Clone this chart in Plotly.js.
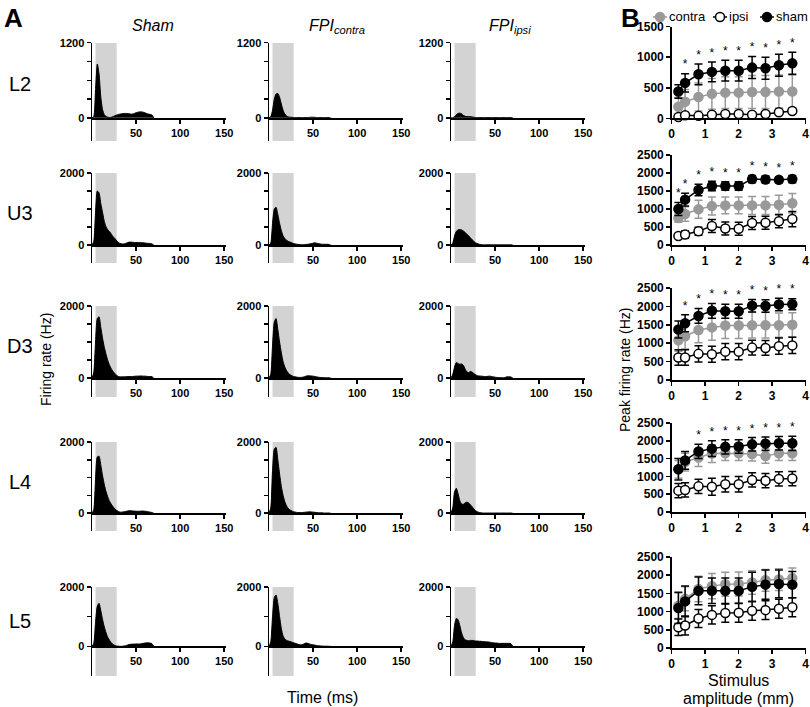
<!DOCTYPE html>
<html>
<head>
<meta charset="utf-8">
<script src="https://cdn.plot.ly/plotly-3.0.1.min.js"></script>
<style>
  body { margin: 0; background: #fff; }
  #chart { width: 810px; height: 707px; }
</style>
</head>
<body>
<div id="chart"></div>
<script>
(function(){

// ---- Panel A data: PSTH, firing rate (Hz) per 2 ms bin ----
const timeMs = [0,2,4,6,8,10,12,14,16,18,20,22,24,26,28,30,32,34,36,38,40,42,44,46,48,50,52,54,56,58,60,62,64,66,68,70];
const stimWindow = [4, 28];

const shamL2   = [0,20,450,860,700,330,130,50,20,10,5,10,20,35,45,55,60,65,70,70,70,65,60,60,70,80,90,95,95,90,80,70,60,55,45,0];
const contraL2 = [0,20,120,300,380,390,330,220,120,60,30,15,10,8,5,5,5,5,5,5,5,5,5,8,10,10,8,5,5,5,5,5,5,5,5,0];
const ipsiL2   = [0,0,20,50,70,75,65,40,25,20,20,20,15,10,5,5,5,5,5,5,5,5,5,5,5,5,5,5,5,5,5,5,5,5,5,0];

const shamU3   = [0,100,900,1500,1450,1150,900,650,500,420,370,300,230,180,120,70,40,30,30,40,60,80,80,75,70,70,70,70,65,60,55,50,45,40,30,0];
const contraU3 = [0,50,600,1000,1050,850,600,400,250,180,130,100,80,60,40,30,20,15,10,10,10,15,20,30,40,50,60,50,40,30,20,20,20,20,15,0];
const ipsiU3   = [0,50,250,380,420,430,420,390,350,300,260,200,150,100,60,40,20,10,5,5,5,5,5,5,5,5,5,5,5,5,5,5,5,5,5,0];

const shamD3   = [0,150,1000,1650,1700,1400,1100,850,650,480,350,250,180,120,70,40,30,30,30,35,40,40,40,40,45,50,50,55,55,50,50,45,40,40,35,0];
const contraD3 = [0,100,900,1550,1650,1350,1000,700,450,300,200,130,90,60,40,30,20,15,15,20,30,50,60,60,55,50,40,30,20,15,10,10,5,5,5,0];
const ipsiD3   = [0,100,300,430,400,380,390,350,250,170,150,180,160,120,90,60,55,50,45,40,40,45,50,40,30,20,15,10,10,5,5,20,30,30,25,0];

const shamL4   = [0,100,950,1580,1600,1350,1050,800,600,450,330,250,180,120,80,50,30,30,40,50,60,70,70,65,60,55,55,55,60,60,55,50,40,30,20,0];
const contraL4 = [0,150,1200,1800,1850,1500,1100,750,500,320,200,130,90,60,40,30,20,20,20,20,25,30,35,40,35,30,25,20,15,10,10,5,5,5,5,0];
const ipsiL4   = [0,150,600,700,550,350,260,250,290,310,290,240,180,120,70,40,20,10,5,5,5,5,5,5,5,5,5,5,5,5,5,5,5,5,5,0];

const shamL5   = [0,100,800,1350,1450,1200,900,650,450,300,200,120,60,30,10,5,0,0,10,20,40,60,70,75,75,80,80,80,90,100,110,120,120,110,90,0];
const contraL5 = [0,150,1000,1650,1730,1450,1000,600,350,250,200,180,160,140,120,100,80,60,50,60,90,110,100,80,60,50,40,30,20,15,10,5,5,5,0,0];
const ipsiL5   = [0,150,700,940,900,700,450,300,220,200,190,200,200,190,180,180,170,170,160,160,150,150,140,130,120,110,110,100,100,100,100,100,100,100,90,0];

const layerNames = ["L2", "U3", "D3", "L4", "L5"];
const psth = [
  [shamL2, contraL2, ipsiL2],
  [shamU3, contraU3, ipsiU3],
  [shamD3, contraD3, ipsiD3],
  [shamL4, contraL4, ipsiL4],
  [shamL5, contraL5, ipsiL5],
];

// ---- Panel B data: peak firing rate (Hz), mean and error ----
const amplitudeMm = [0.2, 0.4, 0.8, 1.2, 1.6, 2.0, 2.4, 2.8, 3.2, 3.6];

const shamPeakL2   = [440, 580, 720, 760, 780, 780, 830, 820, 870, 900];
const shamErrL2    = [110, 150, 170, 160, 170, 170, 180, 180, 180, 180];
const contraPeakL2 = [190, 270, 350, 400, 420, 420, 430, 430, 440, 440];
const contraErrL2  = [150, 200, 230, 250, 260, 260, 270, 270, 270, 270];
const ipsiPeakL2   = [20, 50, 40, 60, 70, 70, 60, 70, 100, 120];
const ipsiErrL2    = [20, 20, 20, 25, 25, 25, 25, 25, 30, 30];

const shamPeakU3   = [1000, 1260, 1530, 1640, 1640, 1640, 1830, 1820, 1810, 1830];
const shamErrU3    = [180, 180, 160, 130, 120, 120, 100, 100, 80, 100];
const contraPeakU3 = [750, 860, 990, 1080, 1100, 1100, 1100, 1100, 1120, 1160];
const contraErrU3  = [120, 200, 250, 250, 230, 230, 250, 250, 260, 270];
const ipsiPeakU3   = [250, 290, 380, 530, 460, 450, 610, 620, 660, 720];
const ipsiErrU3    = [60, 100, 110, 180, 180, 180, 180, 180, 180, 210];

const shamPeakD3   = [1370, 1540, 1740, 1880, 1870, 1870, 2020, 2010, 2050, 2060];
const shamErrD3    = [230, 230, 200, 200, 190, 190, 170, 170, 170, 150];
const contraPeakD3 = [1080, 1190, 1360, 1430, 1480, 1480, 1490, 1490, 1490, 1500];
const contraErrD3  = [300, 350, 350, 350, 350, 350, 350, 350, 330, 330];
const ipsiPeakD3   = [610, 610, 710, 700, 770, 770, 880, 870, 920, 940];
const ipsiErrD3    = [210, 210, 220, 220, 220, 220, 200, 200, 220, 220];

const shamPeakL4   = [1200, 1450, 1700, 1780, 1830, 1840, 1900, 1920, 1930, 1930];
const shamErrL4    = [300, 250, 200, 220, 200, 190, 190, 190, 190, 200];
const contraPeakL4 = [1200, 1400, 1530, 1640, 1650, 1650, 1630, 1570, 1650, 1650];
const contraErrL4  = [250, 250, 250, 250, 200, 200, 200, 200, 200, 200];
const ipsiPeakL4   = [600, 620, 720, 710, 780, 780, 900, 880, 930, 940];
const ipsiErrL4    = [200, 200, 200, 240, 220, 220, 200, 200, 200, 200];

const shamPeakL5   = [1100, 1280, 1570, 1570, 1570, 1570, 1680, 1740, 1760, 1740];
const shamErrL5    = [430, 420, 380, 350, 350, 350, 400, 400, 380, 360];
const contraPeakL5 = [1160, 1350, 1620, 1700, 1750, 1760, 1800, 1860, 1880, 1920];
const contraErrL5  = [350, 330, 350, 350, 330, 330, 320, 300, 300, 280];
const ipsiPeakL5   = [570, 620, 810, 910, 960, 970, 1020, 1040, 1080, 1120];
const ipsiErrL5    = [230, 260, 250, 250, 250, 260, 260, 260, 260, 260];

// significance stars (1 = star over sham point)
const starsL2 = [0,1,1,1,1,1,1,1,1,1];
const starsU3 = [1,1,1,1,1,1,1,1,1,1];
const starsD3 = [0,1,1,1,1,1,1,1,1,1];
const starsL4 = [0,0,1,1,1,1,1,1,1,1];
const starsL5 = [0,0,0,0,0,0,0,0,0,0];

const peaks = [
  {sham: [shamPeakL2, shamErrL2], contra: [contraPeakL2, contraErrL2], ipsi: [ipsiPeakL2, ipsiErrL2], stars: starsL2, ymax: 1500},
  {sham: [shamPeakU3, shamErrU3], contra: [contraPeakU3, contraErrU3], ipsi: [ipsiPeakU3, ipsiErrU3], stars: starsU3, ymax: 2500},
  {sham: [shamPeakD3, shamErrD3], contra: [contraPeakD3, contraErrD3], ipsi: [ipsiPeakD3, ipsiErrD3], stars: starsD3, ymax: 2500},
  {sham: [shamPeakL4, shamErrL4], contra: [contraPeakL4, contraErrL4], ipsi: [ipsiPeakL4, ipsiErrL4], stars: starsL4, ymax: 2500},
  {sham: [shamPeakL5, shamErrL5], contra: [contraPeakL5, contraErrL5], ipsi: [ipsiPeakL5, ipsiErrL5], stars: starsL5, ymax: 2500},
];

// ---- layout geometry (pixels) ----
const W = 810, H = 707;
const px = (v) => v / W;
const py = (v) => 1 - v / H;
const FONT = "Arial, 'Liberation Sans', sans-serif";
const GREY = "#999999";

const colX = [[92, 226], [269, 403], [451, 585]];
const rowsA = [
  {top: 42.7, zero: 118, bot: 141, ymin: -370, ymax: 1200, tick: [0, 300, 600, 900, 1200]},
  {top: 173, zero: 245, bot: 263, ymin: -500, ymax: 2000, tick: [0, 500, 1000, 1500, 2000]},
  {top: 306, zero: 378, bot: 397, ymin: -530, ymax: 2000, tick: [0, 500, 1000, 1500, 2000]},
  {top: 442, zero: 513, bot: 531, ymin: -500, ymax: 2000, tick: [0, 500, 1000, 1500, 2000]},
  {top: 587, zero: 646, bot: 676, ymin: -1000, ymax: 2000, tick: [0, 1000, 2000]},
];
const colB = [671.7, 805.7];
const rowsB = [[26.7, 118.3], [155, 245], [288, 380], [423, 512], [557, 648]];

const axName = (n) => (n === 1 ? "" : String(n));
const traces = [];
const shapes = [];
const layout = {
  width: W, height: H,
  margin: {l: 0, r: 0, t: 0, b: 0},
  paper_bgcolor: "#fff", plot_bgcolor: "rgba(0,0,0,0)",
  showlegend: false,
  font: {family: FONT, color: "#000"},
  annotations: [],
};

const tickFontA = {family: FONT, size: 11, weight: "bold", color: "#000"};
const tickFontB = {family: FONT, size: 12, weight: "bold", color: "#000"};

// Panel A: 5 rows x 3 columns of PSTHs
psth.forEach((rowData, r) => {
  const R = rowsA[r];
  rowData.forEach((vals, c) => {
    const n = r * 3 + c + 1;
    const xa = "x" + axName(n), ya = "y" + axName(n);
    layout["xaxis" + axName(n)] = {
      domain: [px(colX[c][0]), px(colX[c][1])],
      range: [0, 152],
      anchor: "free",
      position: py(R.zero),
      showline: true, linecolor: "#000", linewidth: 1.5,
      showgrid: false, zeroline: false,
      ticks: "outside", ticklen: 4, tickwidth: 1.5, tickcolor: "#000",
      tickvals: [50, 100, 150],
      tickfont: tickFontA,
      fixedrange: true,
    };
    layout["yaxis" + axName(n)] = {
      domain: [py(R.bot), py(R.top)],
      range: [R.ymin, R.ymax],
      anchor: xa,
      showline: true, linecolor: "#000", linewidth: 1.5,
      showgrid: false, zeroline: false,
      ticks: "outside", ticklen: 4, tickwidth: 1.5, tickcolor: "#000",
      tickvals: R.tick,
      ticktext: R.tick.map((t, i) => (i === 0 || i === R.tick.length - 1 ? String(t) : " ")),
      tickfont: tickFontA,
      fixedrange: true,
    };
    // stimulus window
    shapes.push({
      type: "rect", xref: xa, yref: ya, layer: "below",
      x0: stimWindow[0], x1: stimWindow[1], y0: R.ymin, y1: R.ymax,
      fillcolor: "#d3d3d3", line: {width: 0},
    });
    traces.push({
      x: timeMs, y: vals, xaxis: xa, yaxis: ya,
      type: "scatter", mode: "lines",
      line: {color: "#000", width: 1, shape: "spline", smoothing: 0.6},
      fill: "tozeroy", fillcolor: "#000",
      hoverinfo: "skip",
    });
  });
});

// Panel B: peak firing rate vs amplitude
peaks.forEach((P, r) => {
  const n = 16 + r;
  const xa = "x" + n, ya = "y" + n;
  layout["xaxis" + n] = {
    domain: [px(colB[0]), px(colB[1])],
    range: [0, 4], anchor: ya,
    showline: true, linecolor: "#000", linewidth: 1.5,
    showgrid: false, zeroline: false,
    ticks: "outside", ticklen: 4, tickwidth: 1.5, tickcolor: "#000",
    tickvals: [0, 1, 2, 3, 4], tickfont: tickFontB,
    fixedrange: true,
  };
  const yt = [];
  for (let v = 0; v <= P.ymax; v += 500) yt.push(v);
  layout["yaxis" + n] = {
    domain: [py(rowsB[r][1]), py(rowsB[r][0])],
    range: [0, P.ymax], anchor: xa,
    showline: true, linecolor: "#000", linewidth: 1.5,
    showgrid: false, zeroline: false,
    ticks: "outside", ticklen: 4, tickwidth: 1.5, tickcolor: "#000",
    tickvals: yt, tickfont: tickFontB,
    fixedrange: true,
  };
  const groups = [
    {d: P.contra, col: GREY, fill: GREY},
    {d: P.ipsi, col: "#000", fill: "#fff"},
    {d: P.sham, col: "#000", fill: "#000"},
  ];
  groups.forEach((g) => {
    traces.push({
      x: amplitudeMm, y: g.d[0], xaxis: xa, yaxis: ya,
      type: "scatter", mode: "lines+markers",
      line: {color: g.col, width: 1.5},
      marker: {size: 9, color: g.fill, line: {color: g.col, width: 1.5}},
      error_y: {type: "data", array: g.d[1], color: g.col, thickness: 1.5, width: 4},
      cliponaxis: false, hoverinfo: "skip",
    });
  });
  const sx = [], sy = [];
  P.stars.forEach((s, i) => {
    if (s) { sx.push(amplitudeMm[i]); sy.push(P.sham[0][i] + P.sham[1][i] + 0.09 * P.ymax); }
  });
  if (sx.length) {
    traces.push({
      x: sx, y: sy, xaxis: xa, yaxis: ya,
      type: "scatter", mode: "text", text: sx.map(() => "*"),
      textfont: {family: FONT, size: 12, color: "#000"},
      cliponaxis: false, hoverinfo: "skip",
    });
  }
});

// legend for panel B, drawn in its own small axis (pixel units)
layout.xaxis21 = {domain: [px(640), 1], range: [640, 810], anchor: "y21", visible: false, fixedrange: true};
layout.yaxis21 = {domain: [py(26), py(8)], range: [0, 1], anchor: "x21", visible: false, fixedrange: true};
const legendItems = [
  {name: "contra", cx: 660, col: GREY, fill: GREY},
  {name: "ipsi", cx: 720, col: "#000", fill: "#fff"},
  {name: "sham", cx: 767, col: "#000", fill: "#000"},
];
legendItems.forEach((it) => {
  traces.push({
    x: [it.cx - 7, it.cx + 7], y: [0.5, 0.5], xaxis: "x21", yaxis: "y21",
    type: "scatter", mode: "lines", line: {color: it.col, width: 1.5}, hoverinfo: "skip",
  });
  traces.push({
    x: [it.cx], y: [0.5], xaxis: "x21", yaxis: "y21",
    type: "scatter", mode: "markers",
    marker: {size: 9, color: it.fill, line: {color: it.col, width: 1.5}}, hoverinfo: "skip",
  });
  layout.annotations.push({
    xref: "x21", yref: "y21", x: it.cx + 7, y: 0.5, xanchor: "left", yanchor: "middle",
    text: it.name, showarrow: false, font: {family: FONT, size: 13, color: "#000"},
  });
});

// text labels
function label(text, x, y, size, extra) {
  layout.annotations.push(Object.assign({
    xref: "paper", yref: "paper", x: px(x), y: py(y),
    xanchor: "center", yanchor: "middle", showarrow: false,
    text: text, font: {family: FONT, size: size, color: "#000"},
  }, extra || {}));
}
label("<b>A</b>", 13, 18, 26);
label("<b>B</b>", 630, 18, 26);
label("<i>Sham</i>", 153, 25, 16);
label("<i>FPI<sub>contra</sub></i>", 337, 27, 16);
label("<i>FPI<sub>ipsi</sub></i>", 510, 27, 16);
layerNames.forEach((nm, r) => {
  const R = rowsA[r];
  label(nm, 20, (R.top + R.zero) / 2 + 4, 20);
});
label("Firing rate (Hz)", 46, 360, 14, {textangle: -90});
label("Time (ms)", 322, 697, 16);
label("Peak firing rate (Hz)", 625, 370, 14, {textangle: -90});
label("Stimulus", 738, 680, 16);
label("amplitude (mm)", 738, 698, 16);

layout.shapes = shapes;

Plotly.newPlot("chart", traces, layout, {displayModeBar: false, staticPlot: true});

})();
</script>
</body>
</html>
